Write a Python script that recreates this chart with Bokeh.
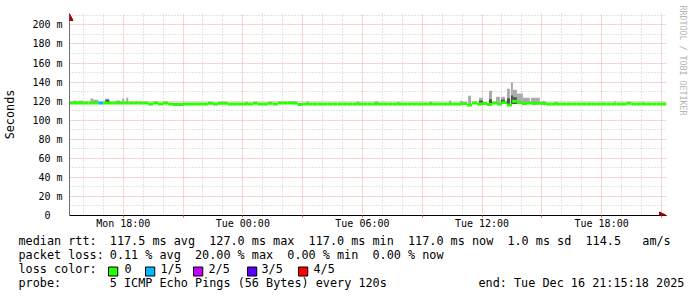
import math
from bokeh.plotting import figure
from bokeh.models import Range1d, FixedTicker, Arrow, NormalHead, ColumnDataSource, Title
from bokeh.embed import file_html
from bokeh.resources import INLINE

# ---------------- data (time axis: hours since Mon 00:00) ----------------
view_start = 15.305          # Mon 15:18
view_end = 45.255            # Tue 21:15:18

x_tick_pos = [18, 24, 30, 36, 42]
x_tick_labels = ["Mon 18:00", "Tue 00:00", "Tue 06:00", "Tue 12:00", "Tue 18:00"]
x_grid_major = [18, 21, 24, 27, 30, 33, 36, 39, 42, 45]
x_grid_minor = [16, 17, 19, 20, 22, 23, 25, 26, 28, 29, 31, 32, 34, 35, 37, 38, 40, 41, 43, 44]

y_tick_pos = [0, 20, 40, 60, 80, 100, 120, 140, 160, 180, 200]
y_tick_labels = ["0\u00a0\u00a0", "20 m", "40 m", "60 m", "80 m", "100 m", "120 m",
                 "140 m", "160 m", "180 m", "200 m"]
y_grid_minor = [10, 30, 50, 70, 90, 110, 130, 150, 170, 190, 210]

# median rtt (ms), one value per 15-minute step starting at Mon 15:15
median_t0 = 15.25
median_step = 0.25
median_rtt = [
    118.0, 118.0, 118.0, 118.0, 118.0, 118.0, 118.0, 118.0, 118.0, 118.0,
    118.0, 118.0, 118.0, 118.0, 118.0, 118.0, 116.9, 118.0, 117.0, 118.0,
    117.0, 116.5, 116.5, 117.0, 117.0, 117.0, 117.0, 117.0, 117.8, 117.0,
    117.8, 117.8, 117.0, 117.0, 117.0, 117.0, 117.0, 117.8, 117.0, 117.0,
    117.8, 117.0, 118.0, 118.0, 118.0, 118.0, 116.5, 117.0, 117.0, 117.0,
    117.0, 117.0, 117.0, 117.0, 117.0, 117.0, 117.0, 117.0, 117.0, 117.0,
    117.0, 117.0, 117.0, 117.0, 117.0, 117.0, 117.0, 117.0, 117.0, 117.0,
    117.0, 117.0, 117.0, 117.0, 117.0, 117.0, 117.0, 117.0, 117.0, 117.5,
    116.0, 118.0, 117.0, 117.5, 116.5, 118.0, 117.0, 118.5, 116.0, 120.0,
    118.5, 117.5, 118.0, 117.5, 117.8, 117.5, 117.0, 117.0, 117.0, 117.0,
    117.0, 117.0, 117.0, 117.0, 117.0, 117.0, 117.0, 117.0, 117.0, 117.0,
    117.0, 117.0, 117.8, 117.0, 117.0, 117.0, 117.0, 117.0, 117.0, 117.0,
]
# samples with packet loss (start time of step, lost pings out of 5)
loss_time = [16.75]
loss_count = [1]

loss_labels = ["0", "1/5", "2/5", "3/5", "4/5"]
loss_colors = ["#26ff00", "#00b8ff", "#c800ff", "#5a00ff", "#ff0000"]

# smoke (spread of the 5 pings above the median)
min_rtt = 117.0
smoke_t0 = [15.50, 15.75, 16.35, 16.50, 17.10, 17.65, 17.95, 18.15, 18.65, 24.15,
            26.45, 27.20, 29.70, 30.60, 31.75, 33.35, 34.35, 34.90, 35.30, 35.85,
            36.35, 36.70, 36.95, 37.25, 37.45, 37.55, 37.75, 38.05, 38.45, 39.05,
            39.65, 42.65, 44.05]
smoke_t1 = [15.65, 16.00, 16.50, 16.75, 17.30, 17.85, 18.05, 18.25, 18.70, 24.25,
            26.60, 27.30, 29.85, 30.80, 31.85, 33.50, 34.45, 35.00, 35.45, 36.05,
            36.50, 36.90, 37.15, 37.40, 37.55, 37.75, 38.05, 38.40, 38.90, 39.15,
            39.80, 42.70, 44.10]
smoke_hi = [120.8, 120.5, 122.8, 121.5, 122.5, 120.8, 122.8, 123.9, 120.5, 119.5,
            119.7, 119.7, 119.3, 119.7, 119.3, 119.3, 120.7, 120.3, 125.8, 123.5,
            131.0, 124.5, 124.5, 133.0, 139.6, 132.0, 128.0, 123.5, 123.5, 120.5,
            119.5, 120.5, 119.5]
smoke_dark = [0, 0, 0, 0, 121.5, 0, 0, 0, 0, 0,
              0, 0, 0, 0, 0, 0, 0, 0, 0, 120.5,
              122.0, 0, 121.5, 123.0, 126.0, 124.0, 0, 0, 0, 0,
              0, 0, 0]

rtt_fields = ["117.5 ms avg", "127.0 ms max", "117.0 ms min", "117.0 ms now", "1.0 ms sd", "114.5", "am/s"]
rtt_cols = [0, 14, 28, 42, 56, 67, 75]
loss_fields = ["0.11 % avg", "20.00 % max", "0.00 % min", "0.00 % now"]
loss_cols = [0, 12, 25, 37]
row_titles = ["median rtt:", "packet loss:", "loss color:", "probe:"]
probe_text = "5 ICMP Echo Pings (56 Bytes) every 120s"
end_text = "end: Tue Dec 16 21:15:18 2025"
watermark = "RRDTOOL / TOBI OETIKER"

MONO = "DejaVu Sans Mono"
NB = "\u00a0"

# ---------------- chart ----------------
W, H = 697, 297
FL, FR, FT, FB = 67, 31, 13, 82
y_max = 212
frame_h = H - FT - FB
ms_per_px = y_max / frame_h
h_per_px = (view_end - view_start) / (W - FL - FR)

p = figure(width=W, height=H, x_range=Range1d(view_start, view_end), y_range=Range1d(0, y_max),
           output_backend="svg", toolbar_location=None,
           min_border_left=FL, min_border_right=FR, min_border_top=FT, min_border_bottom=FB)
p.outline_line_color = None
p.background_fill_color = "white"
p.border_fill_color = "white"

xa = p.xaxis[0]
xa.ticker = FixedTicker(ticks=x_grid_major)
overrides = {t: "" for t in x_grid_major}
overrides.update(dict(zip(x_tick_pos, x_tick_labels)))
xa.major_label_overrides = overrides
xa.axis_line_color = "black"
xa.major_tick_in = 0
xa.major_tick_out = 2
xa.major_tick_line_color = "#e06060"
xa.minor_tick_in = 0
xa.minor_tick_out = 0
xa.major_label_standoff = 0
xa.major_label_text_font = MONO
xa.major_label_text_font_size = "10px"
xa.major_label_text_color = "black"

ya = p.yaxis[0]
ya.ticker = FixedTicker(ticks=y_tick_pos)
ya.major_label_overrides = dict(zip(y_tick_pos, y_tick_labels))
ya.axis_line_color = "#707070"
ya.major_tick_in = 0
ya.major_tick_out = 0
ya.minor_tick_in = 0
ya.minor_tick_out = 0
ya.major_label_standoff = 7
ya.major_label_text_font = MONO
ya.major_label_text_font_size = "10px"
ya.major_label_text_color = "black"
ya.axis_label = "Seconds"
ya.axis_label_text_font = MONO
ya.axis_label_text_font_size = "11.8px"
ya.axis_label_text_font_style = "normal"
ya.axis_label_text_color = "black"
ya.axis_label_standoff = 12

p.xgrid.ticker = FixedTicker(ticks=x_grid_major, minor_ticks=x_grid_minor)
p.ygrid.ticker = FixedTicker(ticks=y_tick_pos[1:], minor_ticks=y_grid_minor)
for g in (p.xgrid[0], p.ygrid[0]):
    g.grid_line_color = "#eeaaaa"
    g.grid_line_dash = "1 1"
    g.minor_grid_line_color = "#c8c8c8"
    g.minor_grid_line_dash = "1 2"

# smoke
p.quad(left=smoke_t0, right=smoke_t1, bottom=[min_rtt] * len(smoke_hi), top=smoke_hi,
       fill_color="#ababab", line_color=None)
dk = [i for i, v in enumerate(smoke_dark) if v > 0]
p.quad(left=[smoke_t0[i] for i in dk], right=[smoke_t1[i] for i in dk],
       bottom=[min_rtt] * len(dk), top=[smoke_dark[i] for i in dk],
       fill_color="#505050", line_color=None)

# median band coloured by loss
half = 1.5 * ms_per_px
n = len(median_rtt)
m_left = [median_t0 + median_step * i for i in range(n)]
m_right = [t + median_step for t in m_left]
m_col = []
for t in m_left:
    c = loss_colors[0]
    for lt, lc in zip(loss_time, loss_count):
        if abs(lt - t) < 1e-6:
            c = loss_colors[lc]
    m_col.append(c)
src = ColumnDataSource(dict(left=m_left, right=m_right,
                            bottom=[v - half for v in median_rtt],
                            top=[v + half for v in median_rtt], color=m_col))
p.quad(left="left", right="right", bottom="bottom", top="top", fill_color="color",
       line_color=None, source=src)

# arrow heads at the axis ends
p.add_layout(Arrow(end=NormalHead(size=7, fill_color="#a00000", line_color="#a00000"),
                   x_start=view_end - 12 * h_per_px, y_start=0, x_end=view_end, y_end=0,
                   line_alpha=0))
p.add_layout(Arrow(end=NormalHead(size=7, fill_color="#a00000", line_color="#a00000"),
                   x_start=view_start, y_start=y_max - 12 * ms_per_px, x_end=view_start,
                   y_end=y_max, line_alpha=0))

# watermark on the right side
p.add_layout(Title(text=watermark, align="left", vertical_align="top", offset=-8, standoff=19,
                   text_font=MONO, text_font_size="8.3px", text_font_style="normal",
                   text_color="#b4b4b4"), "right")

# ---------------- legend rows below the chart ----------------
FS = "11.8px"
TXT_H = 13.73          # line height of the legend font
cw = 7.1               # character pitch of the legend font
cx0 = 107.3            # x of the value column


def add_text(X, txt, height=0.0, font_size=FS, color="black", **kw):
    """text item in the panel below the chart; height = space it takes in the stack"""
    fs = float(font_size[:-2])
    th = fs * TXT_H / 11.8
    p.add_layout(Title(text=txt, align="left", vertical_align="top", offset=X - FL,
                       standoff=height - 2 - th, text_font=MONO, text_font_size=font_size,
                       text_font_style="normal", text_color=color, **kw), "below")


def spacer(h):
    add_text(0, NB, height=h)


spacer(10)
# row 1
add_text(16, row_titles[0])
for t, c in zip(rtt_fields, rtt_cols):
    if t != "114.5":
        add_text(cx0 + c * cw, t)
spacer(2)
add_text(cx0 + rtt_cols[5] * cw, rtt_fields[5])
spacer(12)
# row 2
add_text(16, row_titles[1])
for t, c in zip(loss_fields, loss_cols):
    add_text(cx0 + c * cw, t)
spacer(14)
# row 3
add_text(16, row_titles[2])
lab_x = [122, 158, 206, 259, 311]
for t, X in zip(loss_labels[1:], lab_x[1:]):
    add_text(X, t)
spacer(2)
add_text(lab_x[0], loss_labels[0])
spacer(1)
for col, X in zip(loss_colors, [106, 143, 191, 245, 296]):
    add_text(X, NB + NB, font_size="7.7px", background_fill_color=col,
             border_line_color="black", border_line_width=1)
spacer(11)
# row 4
add_text(16, row_titles[3])
add_text(cx0, probe_text)
add_text(476, end_text)
spacer(14)

open("out.html", "w").write(file_html(p, INLINE))
